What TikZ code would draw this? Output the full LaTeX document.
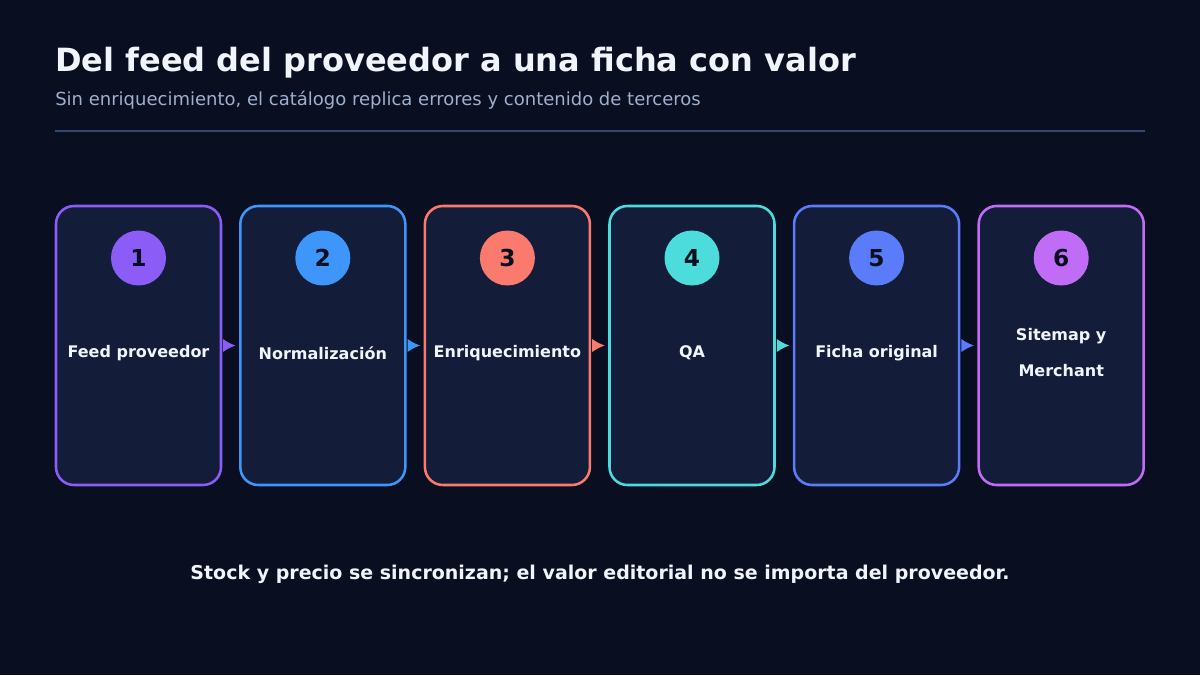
\documentclass[tikz,border=0pt]{standalone}
\usepackage{fontspec}
\setmainfont{DejaVu Sans}
\usepackage{tikz}
\usetikzlibrary{arrows.meta,positioning,calc}

\definecolor{bgdark}{HTML}{090E20}
\definecolor{cardfill}{HTML}{131C38}
\definecolor{cpurple}{HTML}{8B5CF6}
\definecolor{cblue}{HTML}{3E96FA}
\definecolor{ccoral}{HTML}{FA7A6E}
\definecolor{cteal}{HTML}{4CDCDB}
\definecolor{cindigo}{HTML}{5B7CFA}
\definecolor{cviolet}{HTML}{C06CF7}
\definecolor{titletext}{HTML}{F1F5FB}
\definecolor{subtext}{HTML}{9FAFCE}
\definecolor{rulecol}{HTML}{33476A}

\tikzset{
  card/.style={draw=#1, fill=cardfill, line width=1.9pt, rounded corners=13.5pt,
    minimum width=123.75pt, minimum height=209.25pt, inner sep=0pt},
  badge/.style={circle, fill=#1, minimum size=41.25pt, inner sep=0pt,
    text=bgdark, font=\bfseries\fontsize{17.5}{19}\selectfont},
  steplabel/.style={text=titletext, align=center, font=\bfseries\fontsize{12}{27}\selectfont},
  flow/.style={draw=#1, line width=1.5pt, -{Latex[length=9.5pt,width=10pt]},
    shorten <=2pt, shorten >=2.5pt}
}

\begin{document}
\begin{tikzpicture}[x=0.75pt,y=-0.75pt]
  \fill[bgdark] (0,0) rectangle (1200,675);
  \useasboundingbox (0,0) rectangle (1200,675);

  % heading
  \node[anchor=base west, inner sep=0pt, text=titletext, font=\bfseries\fontsize{24}{28}\selectfont] (title) at (55,71) {Del feed del proveedor a una ficha con valor};
  \node[anchor=base west, inner sep=0pt, text=subtext, font=\fontsize{13.5}{16}\selectfont] (subtitle) at (55,105) {Sin enriquecimiento, el catálogo replica errores y contenido de terceros};
  \coordinate (ruleL) at (55,131);
  \coordinate (ruleR) at (1145,131);
  \draw[rulecol, line width=1.2pt] (ruleL) -- (ruleR);

  % cards
  \node[card=cpurple] (c1) at (138.5,345.5) {};
  \node[card=cblue]   (c2) at (322.8,345.5) {};
  \node[card=ccoral]  (c3) at (507.4,345.5) {};
  \node[card=cteal]   (c4) at (692.0,345.5) {};
  \node[card=cindigo] (c5) at (876.6,345.5) {};
  \node[card=cviolet] (c6) at (1061.2,345.5) {};

  % numbers
  \node[badge=cpurple] (n1) at (c1.center |- 0,258) {1};
  \node[badge=cblue]   (n2) at (c2.center |- 0,258) {2};
  \node[badge=ccoral]  (n3) at (c3.center |- 0,258) {3};
  \node[badge=cteal]   (n4) at (c4.center |- 0,258) {4};
  \node[badge=cindigo] (n5) at (c5.center |- 0,258) {5};
  \node[badge=cviolet] (n6) at (c6.center |- 0,258) {6};

  % labels
  \node[steplabel] (l1) at (c1.center |- 0,353) {Feed proveedor};
  \node[steplabel] (l2) at (c2.center |- 0,353) {Normalización};
  \node[steplabel] (l3) at (c3.center |- 0,353) {Enriquecimiento};
  \node[steplabel] (l4) at (c4.center |- 0,353) {QA};
  \node[steplabel] (l5) at (c5.center |- 0,353) {Ficha original};
  \node[steplabel] (l6) at (c6.center |- 0,353) {Sitemap y\\Merchant};

  % arrows
  \draw[flow=cpurple] (c1.east) -- (c2.west);
  \draw[flow=cblue]   (c2.east) -- (c3.west);
  \draw[flow=ccoral]  (c3.east) -- (c4.west);
  \draw[flow=cteal]   (c4.east) -- (c5.west);
  \draw[flow=cindigo] (c5.east) -- (c6.west);

  % footer
  \node[anchor=base, inner sep=0pt, text=titletext, font=\bfseries\fontsize{14.25}{17}\selectfont] (footer) at (600,579) {Stock y precio se sincronizan; el valor editorial no se importa del proveedor.};
\end{tikzpicture}
\end{document}
